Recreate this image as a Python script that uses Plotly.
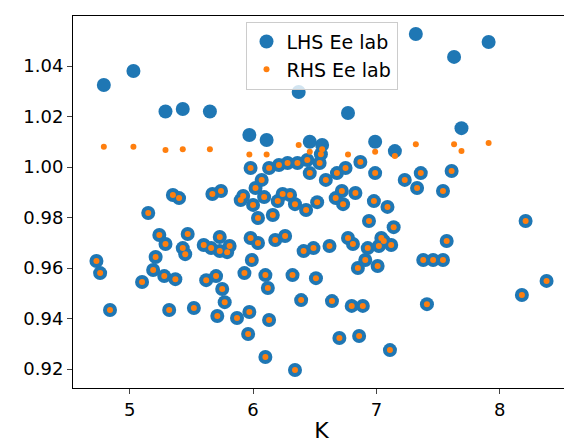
import plotly.graph_objects as go

# points where both sides agree
k_common = [4.73, 4.76, 4.84, 5.10, 5.15, 5.19, 5.21, 5.24, 5.29, 5.28, 5.32, 5.35, 5.37, 5.40,
            5.43, 5.45, 5.47, 5.52, 5.62, 5.60, 5.66, 5.67, 5.70, 5.71, 5.74, 5.73, 5.73, 5.75,
            5.77, 5.79, 5.81, 5.87, 5.90, 5.92, 5.93, 5.96, 5.97, 5.98, 5.98, 5.99, 6.00, 6.02,
            6.04, 6.04, 6.07, 6.09, 6.10, 6.12, 6.13, 6.13, 6.16, 6.18, 6.20, 6.21, 6.24, 6.26,
            6.28, 6.30, 6.32, 6.34, 6.34, 6.36, 6.39, 6.41, 6.43, 6.44, 6.46, 6.49, 6.51, 6.52,
            6.54, 6.55, 6.59, 6.62, 6.64, 6.67, 6.68, 6.70, 6.72, 6.73, 6.75, 6.77, 6.80, 6.81,
            6.83, 6.85, 6.86, 6.87, 6.89, 6.91, 6.93, 6.94, 6.98, 6.99, 7.01, 7.02, 7.04, 7.06,
            7.09, 7.11, 7.12, 7.14, 7.23, 7.33, 7.36, 7.38, 7.41, 7.46, 7.54, 7.57, 7.61, 7.54,
            8.18, 8.21, 8.38, 6.10]
ee_common = [0.9628, 0.958, 0.9434, 0.9545, 0.9818, 0.9592, 0.9644, 0.9731, 0.9695, 0.9568,
             0.9434, 0.9889, 0.9556, 0.9877, 0.9679, 0.9655, 0.9735, 0.9442, 0.9552, 0.9691,
             0.9679, 0.9893, 0.9568, 0.941, 0.9905, 0.9723, 0.9667, 0.9517, 0.9465, 0.9663,
             0.9687, 0.9402, 0.9869, 0.9885, 0.958, 0.9339, 0.9426, 0.9719, 0.9996, 0.9632,
             0.985, 0.9917, 0.9798, 0.9699, 0.9949, 0.9881, 0.9572, 0.9521, 0.9394, 0.9996,
             0.981, 0.9711, 0.9865, 1.0008, 0.9893, 0.9727, 1.0016, 0.9889, 0.9572, 0.9196,
             0.9853, 1.0016, 0.9473, 0.9667, 0.983, 1.0028, 0.9976, 0.9679, 0.956, 0.9861,
             1.0016, 1.0051, 0.9949, 0.9687, 0.9469, 0.9877, 0.9976, 0.9323, 0.9905, 0.9853,
             0.9996, 0.9719, 0.945, 0.9695, 0.9897, 0.96, 0.9331, 1.002, 0.945, 0.9632,
             0.9679, 0.9786, 0.9865, 0.9976, 0.9608, 0.9687, 0.9719, 0.9707, 0.9842, 0.9275,
             0.9691, 0.9762, 0.9949, 0.9917, 0.9976, 0.9632, 0.9457, 0.9632, 0.9632, 0.9707,
             0.9984, 0.9905, 0.9493, 0.9786, 0.9549, 0.9248]

# points where LHS exceeds RHS
k_top = [4.79, 5.03, 5.29, 5.43, 5.65, 5.97, 6.11, 6.37, 6.56, 6.77, 7.32, 7.63, 7.91, 7.69,
         6.99, 7.15, 6.46]
lhs_top = [1.0325, 1.038, 1.022, 1.023, 1.022, 1.0127, 1.0107, 1.0297, 1.0087, 1.0214, 1.0527,
           1.0436, 1.0495, 1.0154, 1.01, 1.0063, 1.01]
rhs_top = [1.008, 1.008, 1.0067, 1.007, 1.007, 1.005, 1.005, 1.0087, 1.007, 1.005, 1.009,
           1.009, 1.0095, 1.0063, 1.006, 1.0044, 1.006]

fig = go.Figure()
fig.add_scatter(x=k_common + k_top, y=ee_common + lhs_top, mode='markers', name='LHS Ee lab',
                marker=dict(color='#1f77b4', size=14))
fig.add_scatter(x=k_common + k_top, y=ee_common + rhs_top, mode='markers', name='RHS Ee lab',
                marker=dict(color='#ff7f0e', size=6))

axis = dict(showgrid=False, zeroline=False, showline=True, linecolor='black', mirror=True,
            ticks='outside', ticklen=5, automargin=False, tickfont=dict(size=18, color='black'))
fig.update_layout(
    width=572, height=444, template='plotly_white',
    margin=dict(l=65, r=10, t=8, b=64),
    font=dict(family='DejaVu Sans', size=18, color='black'),
    xaxis=dict(axis, range=[4.54, 8.57], dtick=1, title=dict(text='K', standoff=4)),
    yaxis=dict(axis, range=[0.9125, 1.0598], dtick=0.02, tickformat='.2f'),
    legend=dict(x=0.5, xanchor='center', y=0.985, yanchor='top', bgcolor='rgba(255,255,255,0.8)',
                bordercolor='#cccccc', borderwidth=1, font=dict(size=19), itemsizing='trace'),
)
fig.write_html("out.html")
